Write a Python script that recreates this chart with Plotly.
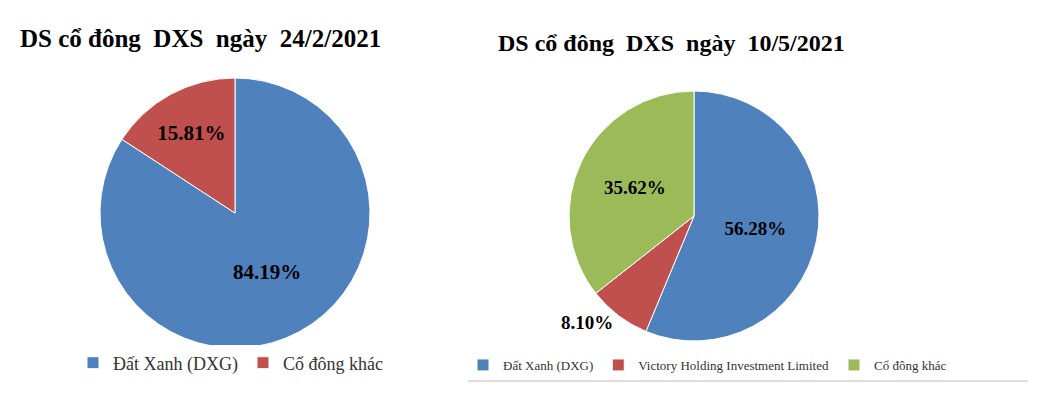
import plotly.graph_objects as go

left_labels = ["Đất Xanh (DXG)", "Cổ đông khác"]
left_values = [84.19, 15.81]
right_labels = ["Đất Xanh (DXG)\u200b", "Victory Holding Investment Limited", "Cổ đông khác\u200b"]
right_values = [56.28, 8.10, 35.62]
colors_left = ["#4F81BD", "#C0504D"]
colors_right = ["#4F81BD", "#C0504D", "#9BBB59"]

W, H = 1041, 409
fig = go.Figure()
fig.add_trace(go.Pie(
    labels=left_labels, values=left_values, sort=False, direction="clockwise", rotation=0,
    marker=dict(colors=colors_left, line=dict(color="white", width=1)),
    texttemplate="%{value:.2f}%", textposition="inside", insidetextorientation="horizontal",
    textfont=dict(family="Liberation Serif", size=21, color="black", weight="bold"),
    domain=dict(x=[92/W, 362/W], y=[1-340/H, 1-70/H]), legend="legend", hoverinfo="skip"))
fig.add_trace(go.Pie(
    labels=right_labels, values=right_values, sort=False, direction="clockwise", rotation=0,
    marker=dict(colors=colors_right, line=dict(color="white", width=1)),
    texttemplate="%{value:.2f}%", textposition=["inside", "outside", "inside"],
    insidetextorientation="horizontal",
    textfont=dict(family="Liberation Serif", size=19, color="black", weight="bold"),
    domain=dict(x=[561/W, 811/W], y=[1-333/H, 1-83/H]), legend="legend2", hoverinfo="skip"))

fig.update_layout(
    width=W, height=H, margin=dict(l=0, r=0, t=0, b=0), paper_bgcolor="white",
    legend=dict(orientation="h", x=65/W, y=1-355/H, xanchor="left", yanchor="middle",
                font=dict(family="Liberation Serif", size=18, color="#333")),
    legend2=dict(orientation="h", x=455/W, y=1-357/H, xanchor="left", yanchor="middle",
                 font=dict(family="Liberation Serif", size=13, color="#333"), itemwidth=30),
    annotations=[
        dict(text="<b>DS cổ đông  DXS  ngày  24/2/2021</b>", x=10/W, y=1-30/H, xref="paper", yref="paper",
             xanchor="left", yanchor="middle", showarrow=False,
             font=dict(family="Liberation Serif", size=25, color="black")),
        dict(text="<b>DS cổ đông  DXS  ngày  10/5/2021</b>", x=488/W, y=1-35/H, xref="paper", yref="paper",
             xanchor="left", yanchor="middle", showarrow=False,
             font=dict(family="Liberation Serif", size=24, color="black")),
    ],
    shapes=[dict(type="line", xref="paper", yref="paper", x0=460/W, x1=1020/W, y0=1-373/H, y1=1-373/H,
                 line=dict(color="#bbbbbb", width=1))],
)
fig.write_html("out.html")
